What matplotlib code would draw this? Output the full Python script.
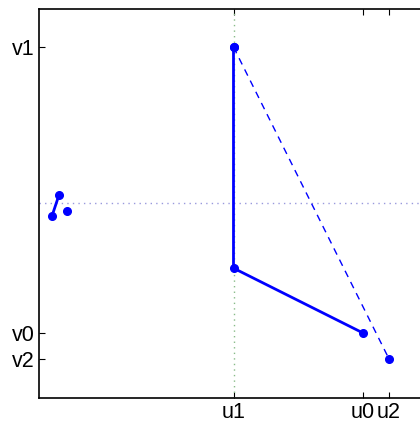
import matplotlib
matplotlib.use('Agg')
import matplotlib.pyplot as plt

# tick positions
u0, u1, u2 = 1.0, 0.0, 1.2
v0, v1, v2 = 0.0, 1.0, -0.091
xtick_labels = ['u1', 'u0', 'u2']
ytick_labels = ['v0', 'v2', 'v1']

# main path (solid) and the dashed chord
path_x = [u1, u1, u0]
path_y = [v1, 0.227, v0]
chord_x = [u1, u2]
chord_y = [v1, v2]

# small cluster on the left
small_x = [-1.40, -1.346]
small_y = [0.409, 0.4825]
lone_x = [-1.285]
lone_y = [0.4266]

h_ref = 0.4545

plt.rcParams['font.family'] = ['Liberation Sans', 'DejaVu Sans']

fig = plt.figure(figsize=(4.2, 4.23), dpi=100)
ax = fig.add_axes([39 / 420, 1 - 398 / 423, (428 - 39) / 420, (398 - 9) / 423])

ax.axvline(u1, color='#88bb88', linestyle=(0, (1, 3)), linewidth=1)
ax.axhline(h_ref, color='#9999dd', linestyle=(0, (1, 3)), linewidth=1)

ax.plot(path_x, path_y, '-', color='#0000ff', linewidth=2)
ax.plot(path_x, path_y, 'o', color='#0000ff', markersize=5.5)
ax.plot(chord_x, chord_y, color='#0000ff', linestyle=(0, (5, 4)), linewidth=1)
ax.plot(chord_x, chord_y, 'o', color='#0000ff', markersize=5.5)
ax.plot(small_x, small_y, 'o-', color='#0000ff', linewidth=2, markersize=5.5)
ax.plot(lone_x, lone_y, 'o', color='#0000ff', markersize=5.5)

ax.set_xlim(-1.5, 1.5)
ax.set_ylim(-0.227, 1.133)
ax.set_xticks([u1, u0, u2])
ax.set_xticklabels(xtick_labels)
ax.set_yticks([v0, v2, v1])
ax.set_yticklabels(ytick_labels)
ax.tick_params(direction='in', length=4, top=True, right=True, labelsize=15.5, pad=3)
for s in ax.spines.values():
    s.set_linewidth(1.2)

fig.savefig('out.png', dpi=100)
